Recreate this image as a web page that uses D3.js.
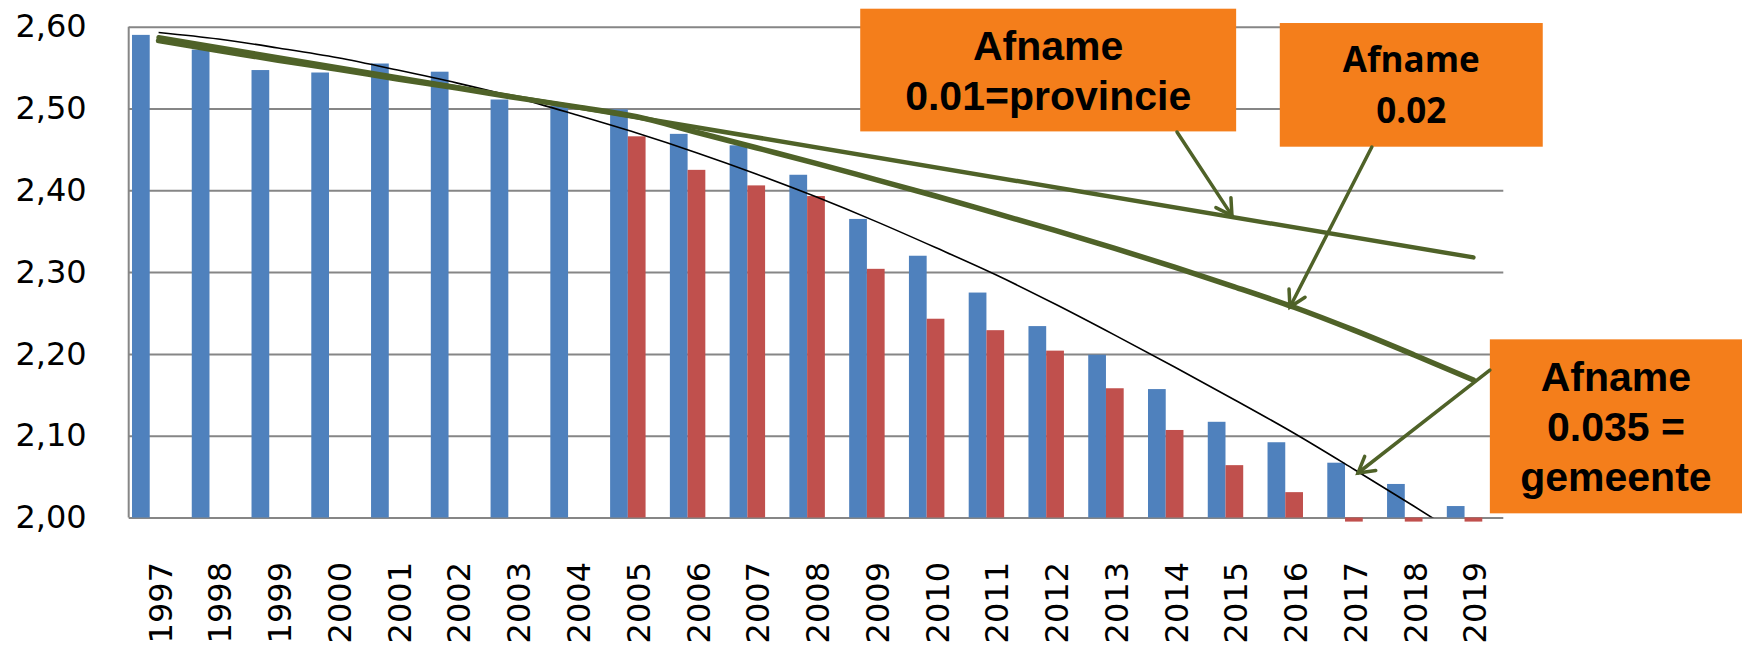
<!DOCTYPE html>
<html>
<head>
<meta charset="utf-8">
<script src="https://cdn.jsdelivr.net/npm/d3@7"></script>
<style>
  body { margin: 0; background: #fff; }
  svg { display: block; }
</style>
</head>
<body>
<svg id="chart" width="1742" height="645"></svg>
<script>
// ===== data =====
var years = ["1997", "1998", "1999", "2000", "2001", "2002", "2003", "2004", "2005", "2006", "2007", "2008",
             "2009", "2010", "2011", "2012", "2013", "2014", "2015", "2016", "2017", "2018", "2019"];

// blue series (observed)
var blueValues = [2.590, 2.572, 2.547, 2.544, 2.555, 2.545, 2.511, 2.503, 2.499, 2.469, 2.455, 2.419,
                  2.365, 2.320, 2.275, 2.234, 2.199, 2.157, 2.117, 2.092, 2.067, 2.041, 2.014];

// red series (starts 2005, last three just under the axis minimum)
var redValues = [null, null, null, null, null, null, null, null, 2.466, 2.425, 2.406, 2.393,
                 2.304, 2.243, 2.229, 2.204, 2.158, 2.107, 2.064, 2.031, 1.995, 1.995, 1.995];

// thin black trend curve
var trendValues = [2.593, 2.585, 2.574, 2.562, 2.547, 2.531, 2.513, 2.492, 2.470, 2.446, 2.420, 2.392,
                   2.362, 2.330, 2.297, 2.261, 2.223, 2.184, 2.144, 2.103, 2.059, 2.014, 1.968];

// green line "Afname 0.01" (straight)
var lineProvincie = [{ year: 1997, value: 2.587 }, { year: 2019, value: 2.318 }];

// green line "Afname 0.02"
var line002Values = [2.583, 2.571, 2.559, 2.548, 2.536, 2.525, 2.513, 2.502, 2.490, 2.471, 2.452, 2.433,
                     2.413, 2.393, 2.372, 2.351, 2.329, 2.306, 2.282, 2.257, 2.229, 2.199, 2.168];

var yTicks = [2.0, 2.1, 2.2, 2.3, 2.4, 2.5, 2.6];

// annotation boxes, in chart units (fractional year, value)
var boxLabels = [
  { x0: 2008.74, x1: 2015.03, top: 2.622, bottom: 2.472, lines: ["Afname", "0.01=provincie"], font: "bold1" },
  { x0: 2015.76, x1: 2020.16, top: 2.6045, bottom: 2.4533, lines: ["Afname", "0.02"], font: "bold2" },
  { x0: 2019.275, x1: 2023.6, top: 2.2178, bottom: 2.0051, lines: ["Afname", "0.035 =", "gemeente"], font: "bold1" }
];

// arrows from the boxes to the lines, in chart units
var arrowLinks = [
  { fromYear: 2014.04, fromValue: 2.4713, toYear: 2014.96, toValue: 2.3690 },
  { fromYear: 2017.30, fromValue: 2.4529, toYear: 2015.93, toValue: 2.2573 },
  { fromYear: 2019.275, fromValue: 2.1803, toYear: 2017.068, toValue: 2.0544 }
];

// ===== layout =====
var W = 1742, H = 645;
var plot = { left: 128.7, right: 1503.3, top: 26.7, bottom: 517.5 };

var COLOURS = {
  blue: "#4F81BD", red: "#C0504D", grid: "#868686",
  green: "#4F6228", orange: "#F47E1B", text: "#000"
};

var svg = d3.select("#chart").attr("viewBox", "0 0 " + W + " " + H);

svg.append("rect").attr("width", W).attr("height", H).attr("fill", "#fff");

var x = d3.scaleBand().domain(years)
  .range([plot.left, plot.right])
  .paddingInner(0.11).paddingOuter(0.055);
var xSub = d3.scaleBand().domain(["blue", "red", "spare"]).range([0, x.bandwidth()]);
var xLin = d3.scaleLinear().domain([1996.5, 2019.5]).range([plot.left, plot.right]);
var y = d3.scaleLinear().domain([2.0, 2.6]).range([plot.bottom, plot.top]);

var nl = d3.formatLocale({ decimal: ",", thousands: ".", grouping: [3], currency: ["", ""] });
var fmt = nl.format(".2f");

// Gridlines + y labels
svg.append("g")
  .attr("transform", "translate(" + plot.left + ",0)")
  .call(d3.axisLeft(y).tickValues(yTicks).tickFormat(fmt)
    .tickSize(-(plot.right - plot.left)).tickPadding(42))
  .call(function(g) { g.select(".domain").remove(); })
  .call(function(g) {
    g.selectAll(".tick line").attr("stroke", COLOURS.grid).attr("stroke-width", 2);
    g.selectAll(".tick text")
      .attr("font-family", "'DejaVu Sans', Verdana, sans-serif")
      .attr("font-size", 32).attr("fill", COLOURS.text);
  });

// Left axis line
svg.append("line")
  .attr("x1", plot.left).attr("x2", plot.left)
  .attr("y1", y(2.6)).attr("y2", y(2.0))
  .attr("stroke", COLOURS.grid).attr("stroke-width", 2);

// X labels (rotated)
svg.append("g").selectAll("text")
  .data(years)
  .join("text")
  .attr("transform", function(d) {
    return "translate(" + (x(d) + x.bandwidth() / 2 + 1.5) + "," + (plot.bottom + 44.5) + ") rotate(-90)";
  })
  .attr("text-anchor", "end")
  .attr("dy", "0.36em")
  .attr("font-family", "'DejaVu Sans', Verdana, sans-serif")
  .attr("font-size", 32)
  .attr("fill", COLOURS.text)
  .text(function(d) { return d; });

// Bars
function barY(v) { return Math.min(y(v), y(2.0)); }
function barH(v) { return Math.abs(y(v) - y(2.0)); }

svg.append("g").selectAll("rect")
  .data(years.map(function(yr, i) { return { year: yr, value: blueValues[i] }; }))
  .join("rect")
  .attr("x", function(d) { return x(d.year) + xSub("blue"); })
  .attr("y", function(d) { return barY(d.value); })
  .attr("width", xSub.bandwidth())
  .attr("height", function(d) { return barH(d.value); })
  .attr("fill", COLOURS.blue);

svg.append("g").selectAll("rect")
  .data(years.map(function(yr, i) { return { year: yr, value: redValues[i] }; })
    .filter(function(d) { return d.value != null; }))
  .join("rect")
  .attr("x", function(d) { return x(d.year) + xSub("red"); })
  .attr("y", function(d) { return barY(d.value); })
  .attr("width", xSub.bandwidth())
  .attr("height", function(d) { return barH(d.value); })
  .attr("fill", COLOURS.red);

// Clip for the trend curve
svg.append("defs").append("clipPath").attr("id", "plot-clip")
  .append("rect")
  .attr("x", plot.left).attr("y", 0)
  .attr("width", plot.right - plot.left).attr("height", y(2.0));

var lineGen = d3.line()
  .x(function(d) { return xLin(d.year); })
  .y(function(d) { return y(d.value); });

// Black trend curve
svg.append("path")
  .datum(years.map(function(yr, i) { return { year: +yr, value: trendValues[i] }; }))
  .attr("clip-path", "url(#plot-clip)")
  .attr("fill", "none")
  .attr("stroke", "#000")
  .attr("stroke-width", 1.6)
  .attr("d", lineGen.curve(d3.curveMonotoneX));

// Green lines
svg.append("path")
  .datum(lineProvincie)
  .attr("fill", "none")
  .attr("stroke", COLOURS.green)
  .attr("stroke-width", 4.5)
  .attr("stroke-linecap", "round")
  .attr("d", lineGen.curve(d3.curveLinear));

svg.append("path")
  .datum(years.map(function(yr, i) { return { year: +yr, value: line002Values[i] }; }))
  .attr("fill", "none")
  .attr("stroke", COLOURS.green)
  .attr("stroke-width", 5.5)
  .attr("stroke-linecap", "round")
  .attr("stroke-linejoin", "round")
  .attr("d", lineGen.curve(d3.curveMonotoneX));

// Orange label boxes
var fonts = {
  bold1: { family: "'Liberation Sans', Arial, sans-serif", size: 41, lead: [51.5, 101.5, 152] },
  bold2: { family: "'Open Sans', sans-serif", size: 35, lead: [49.3, 100.3] }
};

var boxG = svg.append("g").selectAll("g")
  .data(boxLabels)
  .join("g");

boxG.append("rect")
  .attr("x", function(d) { return xLin(d.x0); })
  .attr("y", function(d) { return y(d.top); })
  .attr("width", function(d) { return xLin(d.x1) - xLin(d.x0); })
  .attr("height", function(d) { return y(d.bottom) - y(d.top); })
  .attr("fill", COLOURS.orange);

boxG.each(function(d) {
  var f = fonts[d.font];
  var cx = (xLin(d.x0) + Math.min(xLin(d.x1), W)) / 2;
  d3.select(this).selectAll("text")
    .data(d.lines)
    .join("text")
    .attr("x", cx)
    .attr("y", function(t, i) { return y(d.top) + f.lead[i]; })
    .attr("text-anchor", "middle")
    .attr("font-family", f.family)
    .attr("font-weight", "bold")
    .attr("font-size", f.size)
    .attr("fill", COLOURS.text)
    .text(function(t) { return t; });
});

// Arrows
var arrowG = svg.append("g")
  .attr("stroke", COLOURS.green)
  .attr("stroke-width", 3.5)
  .attr("stroke-linecap", "round")
  .attr("fill", "none");

arrowLinks.forEach(function(a) {
  var x1 = xLin(a.fromYear), y1 = y(a.fromValue);
  var x2 = xLin(a.toYear), y2 = y(a.toValue);
  var ang = Math.atan2(y1 - y2, x1 - x2);
  var len = 18, spread = Math.PI / 6;
  arrowG.append("line").attr("x1", x1).attr("y1", y1).attr("x2", x2).attr("y2", y2);
  arrowG.append("path").attr("d",
    "M" + (x2 + len * Math.cos(ang - spread)) + "," + (y2 + len * Math.sin(ang - spread)) +
    "L" + x2 + "," + y2 +
    "L" + (x2 + len * Math.cos(ang + spread)) + "," + (y2 + len * Math.sin(ang + spread)));
});
</script>
</body>
</html>
